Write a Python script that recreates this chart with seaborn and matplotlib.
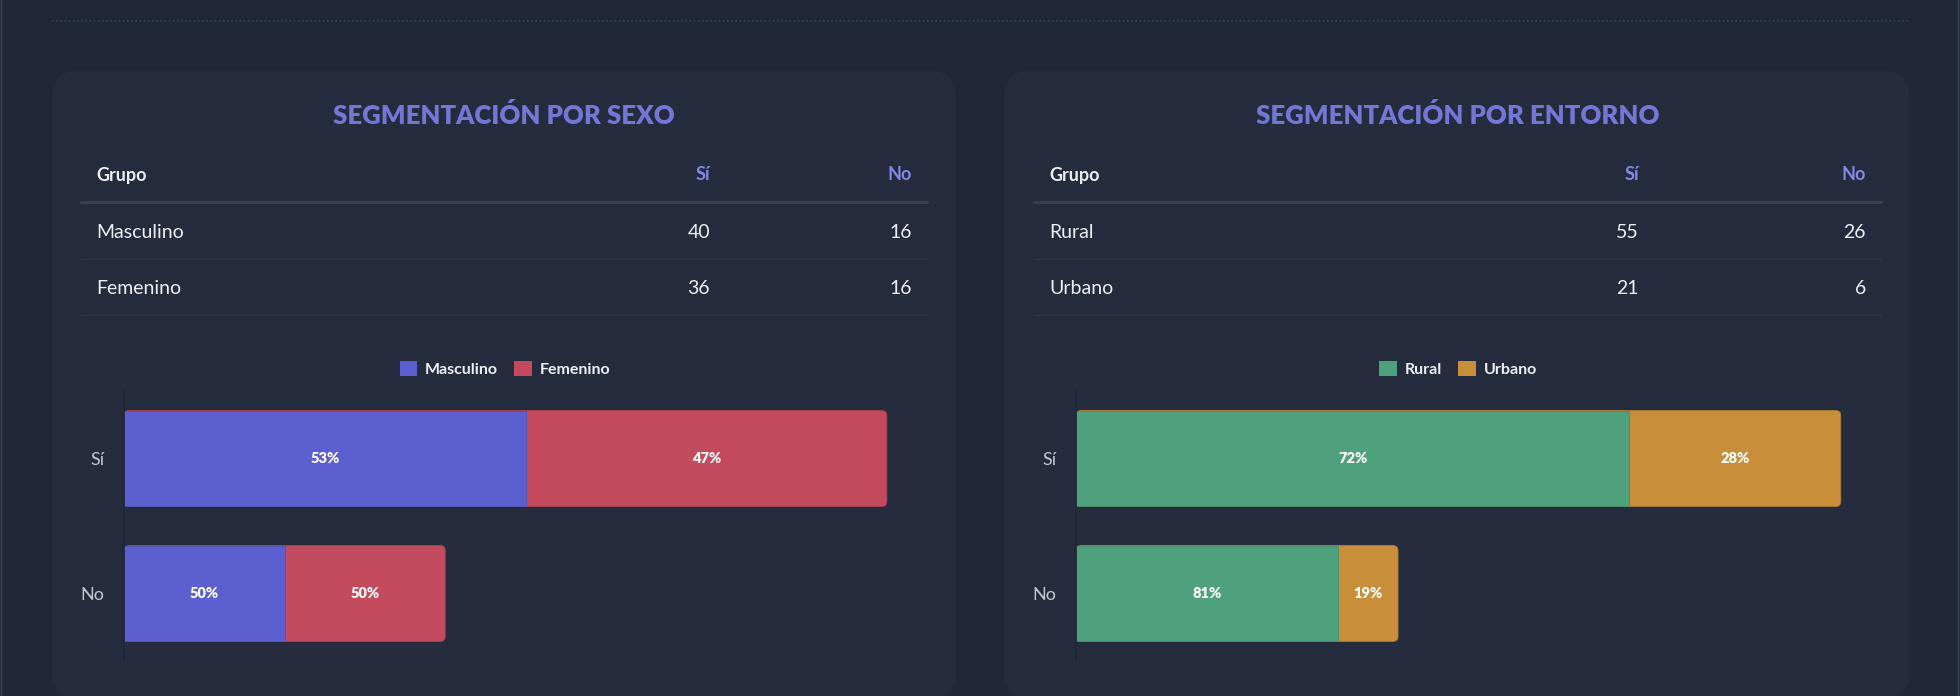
import matplotlib
matplotlib.use('Agg')
import matplotlib.pyplot as plt
import seaborn as sns
import pandas as pd
from matplotlib.patches import FancyBboxPatch, Patch
from matplotlib.lines import Line2D
from matplotlib.transforms import IdentityTransform
from matplotlib.colors import to_rgb

# ---------------- data ----------------
responses = ['Sí', 'No']
sex_groups = ['Masculino', 'Femenino']
sex_si = [40, 36]
sex_no = [16, 16]
env_groups = ['Rural', 'Urbano']
env_si = [55, 21]
env_no = [26, 6]
sex_colors = ['#5b5fcf', '#c44b5d']
env_colors = ['#4ea17c', '#c98e3a']
titles = ['SEGMENTACIÓN POR SEXO', 'SEGMENTACIÓN POR ENTORNO']
table_header = ['Grupo', 'Sí', 'No']

# ---------------- style ----------------
PAGE = '#1f2738'
PANEL = '#242c3d'
ACCENT = '#7378d6'
HEAD_ACCENT = '#8389e6'
TEXT = '#eef0f4'
TICK = '#c3c7cf'
W, H = 1960, 696

sns.set_theme(style='dark')
plt.rcParams['font.family'] = ['Lato', 'DejaVu Sans']

fig = plt.figure(figsize=(W / 100, H / 100), dpi=100)
fig.patch.set_facecolor(PAGE)


def fx(px):
    return px / W


def fy(py):
    return 1 - py / H


def ftext(x, y, s, **kw):
    fig.text(fx(x), fy(y), s, **kw)


def darker(c, f=0.88):
    r, g, b = to_rgb(c)
    return (r * f, g * f, b * f)


# top dotted divider & page border
fig.add_artist(Line2D([fx(52), fx(1910)], [fy(21), fy(21)], color='#3b4556',
                      lw=1.2, ls=(0, (1, 1.5))))
fig.add_artist(Line2D([fx(1), fx(1)], [0, 1], color='#3a4456', lw=1))
fig.add_artist(Line2D([fx(1958), fx(1958)], [0, 1], color='#3a4456', lw=1))

panels = [
    dict(x0=52, x1=956, groups=sex_groups, si=sex_si, no=sex_no, colors=sex_colors,
         title=titles[0], grupo_x=96, si_x=710, no_x=912, line0=81, line1=927,
         ax_x0=124, leg_x=505),
    dict(x0=1004, x1=1909, groups=env_groups, si=env_si, no=env_no, colors=env_colors,
         title=titles[1], grupo_x=1049, si_x=1639, no_x=1866, line0=1034, line1=1881,
         ax_x0=1076, leg_x=1458),
]

AX_TOP, AX_BOT = 391, 661

for p in panels:
    # card background
    fig.add_artist(FancyBboxPatch((p['x0'], H - 699), p['x1'] - p['x0'], 699 - 71,
                                  boxstyle='round,pad=0,rounding_size=25',
                                  transform=IdentityTransform(),
                                  facecolor=PANEL, edgecolor='none', zorder=0))
    cx = (p['line0'] + p['line1']) / 2
    ftext(cx, 115, p['title'], ha='center', va='center', color=ACCENT,
          fontsize=18.5, fontweight='heavy')

    # table
    ftext(p['grupo_x'], 175, table_header[0], ha='left', va='center', color=TEXT,
          fontsize=13, fontweight='bold')
    ftext(p['si_x'], 175, table_header[1], ha='right', va='center', color=HEAD_ACCENT,
          fontsize=13, fontweight='bold')
    ftext(p['no_x'], 175, table_header[2], ha='right', va='center', color=HEAD_ACCENT,
          fontsize=13, fontweight='bold')
    fig.add_artist(Line2D([fx(p['line0']), fx(p['line1'])], [fy(202), fy(202)],
                          color='#3a4252', lw=2.2))
    for i, g in enumerate(p['groups']):
        yrow = 233 + 56 * i
        ftext(p['grupo_x'], yrow, g, ha='left', va='center', color=TEXT, fontsize=14)
        ftext(p['si_x'], yrow, str(p['si'][i]), ha='right', va='center', color=TEXT,
              fontsize=14)
        ftext(p['no_x'], yrow, str(p['no'][i]), ha='right', va='center', color=TEXT,
              fontsize=14)
        fig.add_artist(Line2D([fx(p['line0']), fx(p['line1'])],
                              [fy(259 + 56 * i), fy(259 + 56 * i)],
                              color='#2f3747', lw=1))

    # stacked bar chart
    rows = []
    for resp, vals in zip(responses, [p['si'], p['no']]):
        total = sum(vals)
        cum = 0
        for g, v in zip(p['groups'], vals):
            cum += v
            rows.append(dict(resp=resp, group=g, value=v, cum=cum, total=total))
    df = pd.DataFrame(rows)

    ax_w_px = p['line1'] - p['ax_x0']
    ax_h_px = AX_BOT - AX_TOP
    ax = fig.add_axes([fx(p['ax_x0']), fy(AX_BOT), ax_w_px / W, ax_h_px / H])
    ax.set_facecolor('none')
    pal = dict(zip(p['groups'], p['colors']))
    sns.barplot(data=df, x='cum', y='resp', hue='group', order=responses,
                hue_order=p['groups'][::-1], palette=pal, dodge=False,
                width=0.71, saturation=1, linewidth=0, legend=False, ax=ax)
    XMAX = 80
    ax.set_xlim(0, XMAX)
    ax.set_ylim(1.5, -0.5)

    # round the right end of each full-length (outer) bar, thin darker outline
    xpp = XMAX / ax_w_px
    ypp = 2.0 / ax_h_px
    outer = to_rgb(p['colors'][-1])
    for bar in list(ax.patches):
        fc = bar.get_facecolor()
        x, y = bar.get_x(), bar.get_y()
        w, h = bar.get_width(), bar.get_height()
        if tuple(round(c, 3) for c in fc[:3]) == tuple(round(c, 3) for c in outer):
            bar.set_visible(False)
            ax.add_patch(FancyBboxPatch((x, y), w, h,
                                        boxstyle=f'round,pad=0,rounding_size={5 * xpp}',
                                        mutation_aspect=ypp / xpp,
                                        facecolor=fc, edgecolor=darker(fc[:3]),
                                        linewidth=0.6, zorder=0.5))
        else:
            bar.set_edgecolor(darker(fc[:3]))
            bar.set_linewidth(0.6)

    for _, r in df.iterrows():
        yi = responses.index(r['resp'])
        ax.text(r['cum'] - r['value'] / 2, yi, f"{round(100 * r['value'] / r['total'])}%",
                ha='center', va='center', color='white', fontsize=10.5, fontweight='heavy',
                zorder=5)
    ax.set_xlabel('')
    ax.set_ylabel('')
    ax.set_xticks([])
    ax.tick_params(axis='y', length=0, pad=14, labelsize=13, labelcolor=TICK)
    for s in ['top', 'right', 'bottom']:
        ax.spines[s].set_visible(False)
    ax.spines['left'].set_color('#1e2534')
    ax.spines['left'].set_linewidth(1.2)
    ax.grid(False)

    handles = [Patch(facecolor=c, edgecolor='none', label=g)
               for g, c in zip(p['groups'], p['colors'])]
    fig.legend(handles=handles, loc='center', bbox_to_anchor=(fx(p['leg_x']), fy(369)),
               ncol=2, frameon=False, handlelength=1.1, handleheight=1.1,
               handletextpad=0.5, columnspacing=1.0,
               prop=dict(weight='bold', size=11.5), labelcolor=TEXT)

fig.savefig('out.png', dpi=100, facecolor=PAGE)
